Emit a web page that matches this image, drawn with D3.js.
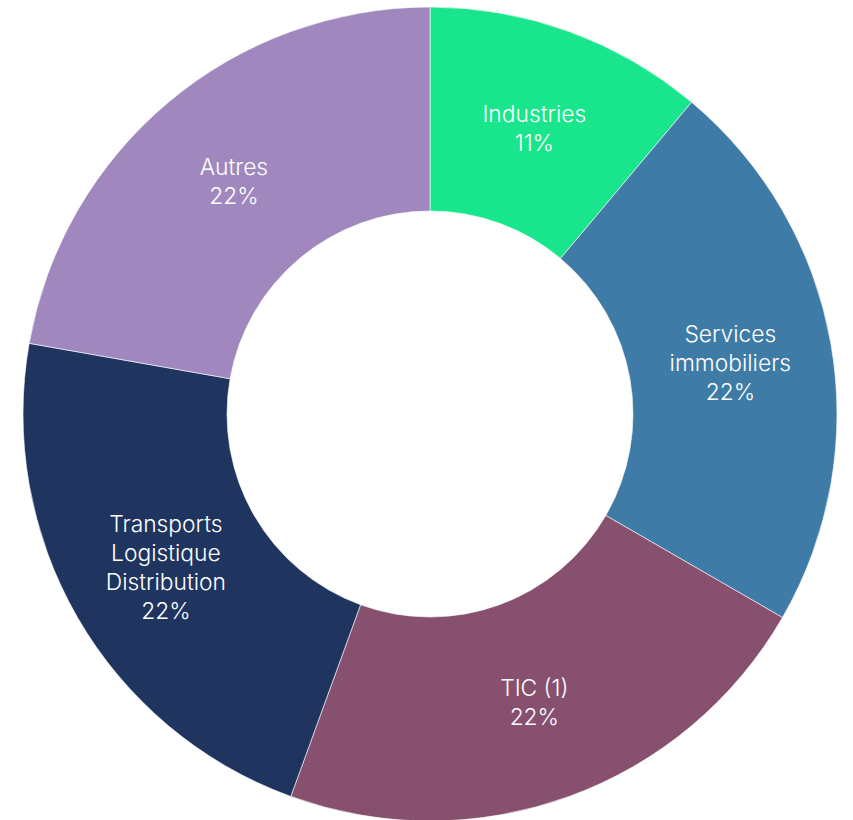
<!DOCTYPE html>
<html>
<head>
<meta charset="utf-8">
<script src="https://cdn.jsdelivr.net/npm/d3@7"></script>
<style>
  body { margin: 0; background: #fff; }
  text { font-family: Inter, "Noto Sans", sans-serif; font-weight: 300; }
</style>
</head>
<body>
<div id="chart"></div>
<script>
const categories = ["Industries", "Services\nimmobiliers", "TIC (1)", "Transports\nLogistique\nDistribution", "Autres"]
const values = [11, 22, 22, 22, 22]
const colors = ["#19e68c", "#3e7ba6", "#87506f", "#1f3560", "#a088be"]

const width = 853
const height = 820
const cx = 430
const cy = 414
const outer = 407
const inner = 203

const svg = d3.select("#chart").append("svg")
    .attr("width", width)
    .attr("height", height)
    .append("g")
    .attr("transform", "translate(" + cx + "," + cy + ")")

const pie = d3.pie().sort(null).value(d => d.value)
const arc = d3.arc().innerRadius(inner).outerRadius(outer)

const data = categories.map((c, i) => ({name: c, value: values[i], color: colors[i]}))
const arcs = pie(data)

svg.selectAll("path")
    .data(arcs)
    .enter()
    .append("path")
    .attr("d", arc)
    .attr("fill", d => d.data.color)
    .attr("stroke", "#fff")
    .attr("stroke-width", 0.6)

const lineH = 29
arcs.forEach(a => {
    const c = arc.centroid(a)
    const lines = a.data.name.split("\n").concat([a.data.value + "%"])
    const t = svg.append("text")
        .attr("text-anchor", "middle")
        .attr("fill", "#fff")
        .attr("font-size", 22.8)
    lines.forEach((l, i) => {
        t.append("tspan")
            .attr("x", c[0])
            .attr("y", c[1] + 1.5 + (i - (lines.length - 1) / 2) * lineH)
            .attr("dy", "0.35em")
            .text(l)
    })
})
</script>
</body>
</html>
